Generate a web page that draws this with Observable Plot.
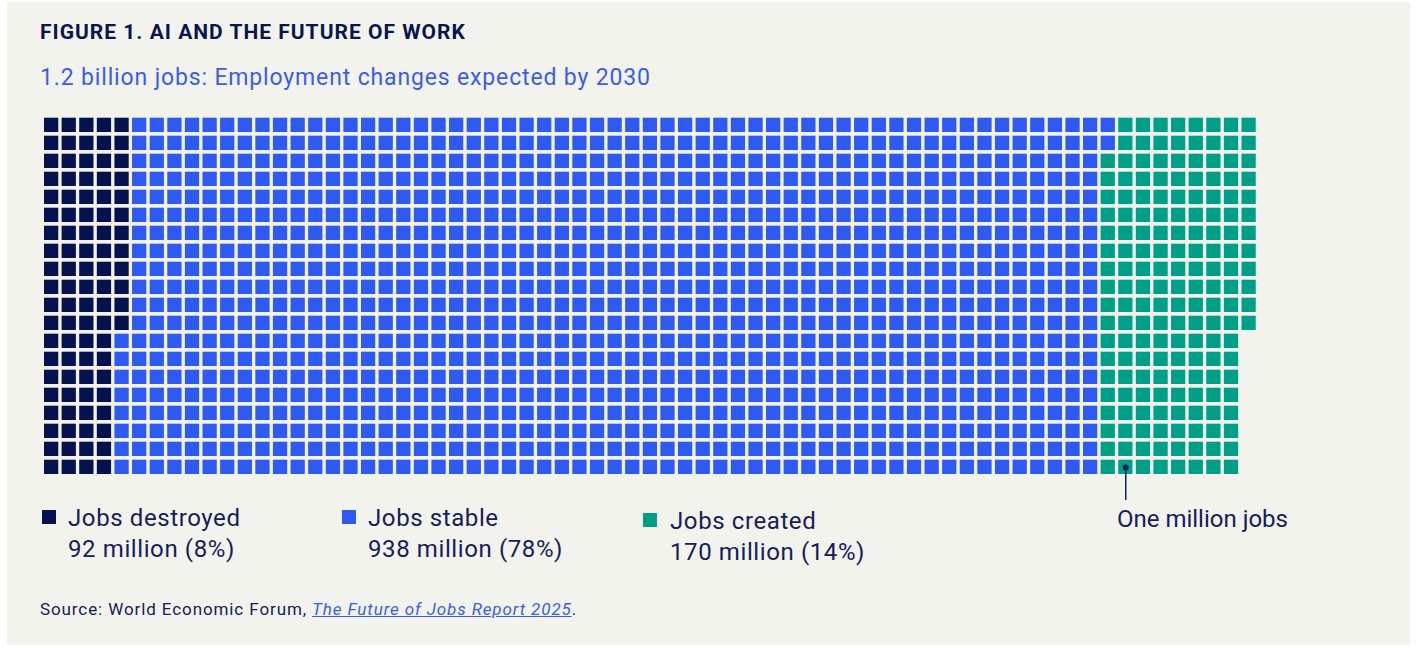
<!DOCTYPE html>
<html>
<head>
<meta charset="utf-8">
<script src="https://cdn.jsdelivr.net/npm/d3@7"></script>
<script src="https://cdn.jsdelivr.net/npm/@observablehq/plot@0.6"></script>
<style>
  html, body { margin: 0; padding: 0; background: #ffffff; }
  body { width: 1418px; height: 648px; position: relative; overflow: hidden; font-family: Roboto, "Noto Sans", sans-serif; }
  #panel { position: absolute; left: 7px; top: 2px; width: 1403px; height: 643px; background: #f3f3ee; }
  .abs { position: absolute; white-space: nowrap; }
  #title { left: 40px; top: 22.3px; font-size: 21px; line-height: 1; font-weight: 700; color: #0a1550; letter-spacing: 1px; }
  #subtitle { left: 40px; top: 65.6px; font-size: 23px; line-height: 1; color: #3a5cf0; letter-spacing: 0.85px; }
  #chart { position: absolute; left: 0; top: 100px; }
  .leg { position: absolute; font-size: 24px; line-height: 31px; color: #14205a; white-space: nowrap; letter-spacing: 0.6px; }
  .sw { position: absolute; width: 14px; height: 14px; }
  #source { left: 40px; top: 600.7px; font-size: 17px; line-height: 1; color: #14205a; letter-spacing: 0.9px; }
  #source a { color: #3a5cf0; font-style: italic; text-decoration: underline; }
</style>
</head>
<body>
<div id="panel"></div>
<div class="abs" id="title">FIGURE 1. AI AND THE FUTURE OF WORK</div>
<div class="abs" id="subtitle">1.2 billion jobs: Employment changes expected by 2030</div>
<div id="chart"></div>
<div id="legend"></div>
<div class="abs" id="source">Source: World Economic Forum, <a>The Future of Jobs Report 2025</a>.</div>
<script>
// ---- data ----
const categories = ["Jobs destroyed", "Jobs stable", "Jobs created"];
// squares as drawn in the figure (one square = one million jobs)
const cellCounts = [92, 1110, 170];
const legendValues = ["92 million (8%)", "938 million (78%)", "170 million (14%)"];
const colors = ["#06114f", "#2f5af2", "#00a088"];
const annotationLabel = "One million jobs";

// ---- layout constants ----
const ROWS = 20;
const COLS = 69;

// build cells, filled column by column, top to bottom
const cells = [];
let idx = 0;
categories.forEach((cat, ci) => {
  for (let k = 0; k < cellCounts[ci]; k++, idx++) {
    cells.push({cat, col: Math.floor(idx / ROWS), row: idx % ROWS});
  }
});

const W = 1418, H = 440;
const mLeft = 44, pitchX = 17.61, mTop = 17.7, pitchY = 18;
const chart = Plot.plot({
  width: W,
  height: H,
  marginLeft: mLeft,
  marginRight: W - (mLeft + COLS * pitchX),
  marginTop: mTop,
  marginBottom: H - (mTop + ROWS * pitchY),
  x: {domain: [0, COLS], axis: null},
  y: {domain: [0, ROWS], reverse: true, axis: null},
  color: {domain: categories, range: colors},
  style: {background: "transparent", overflow: "visible"},
  marks: [
    Plot.rect(cells, {
      x1: "col", x2: d => d.col + 1,
      y1: "row", y2: d => d.row + 1,
      fill: "cat", insetRight: 3.34, insetBottom: 3.7
    }),
    Plot.ruleX([{x: 61.4, y1: 19.4, y2: 21.24}], {x: "x", y1: "y1", y2: "y2", stroke: "#14205a", strokeWidth: 1.5}),
    Plot.dot([{x: 61.4, y: 19.4}], {x: "x", y: "y", r: 3, fill: "#14205a", stroke: "none"}),
    Plot.text([{x: 60.9, y: 22.3, t: annotationLabel}], {
      x: "x", y: "y", text: "t", textAnchor: "start", fontSize: 24,
      fill: "#14205a", fontFamily: "Roboto, sans-serif", letterSpacing: 0.35
    })
  ]
});
document.getElementById("chart").appendChild(chart);

// ---- legend ----
const legendPos = [
  {sx: 42, sy: 510, tx: 68, ty: 503.3},
  {sx: 342, sy: 510, tx: 368, ty: 503.3},
  {sx: 643, sy: 513, tx: 670, ty: 506.3}
];
const legend = document.getElementById("legend");
categories.forEach((cat, i) => {
  const p = legendPos[i];
  const sw = document.createElement("div");
  sw.className = "sw";
  sw.style.left = p.sx + "px"; sw.style.top = p.sy + "px"; sw.style.background = colors[i];
  legend.appendChild(sw);
  const t = document.createElement("div");
  t.className = "leg";
  t.style.left = p.tx + "px"; t.style.top = p.ty + "px";
  t.innerHTML = cat + "<br>" + legendValues[i];
  legend.appendChild(t);
});
</script>
</body>
</html>
